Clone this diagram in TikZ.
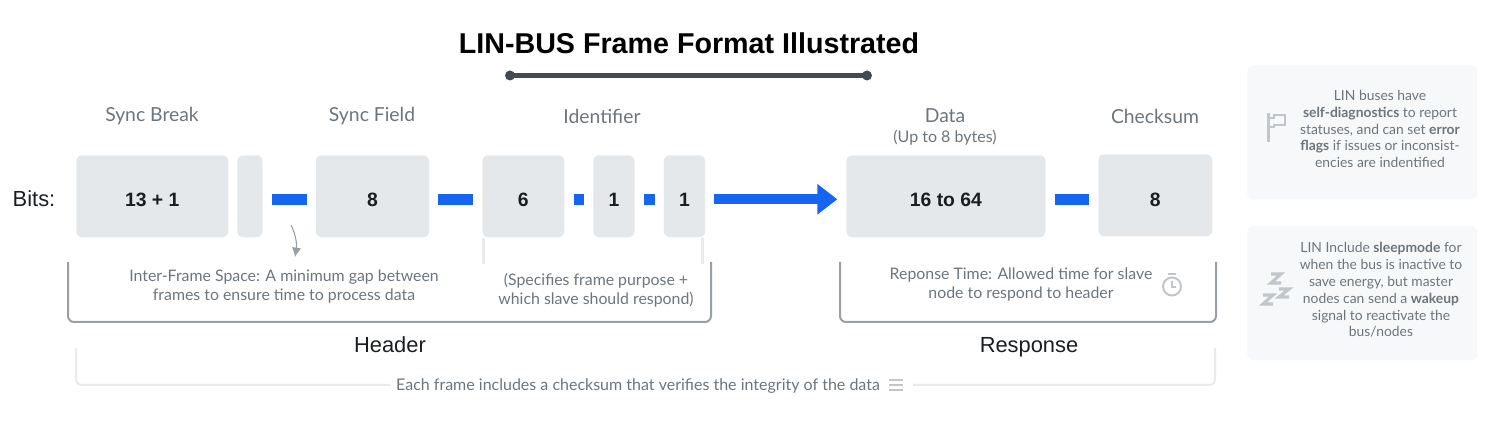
\documentclass[tikz,border=0pt]{standalone}
\usepackage{fontspec}
\usetikzlibrary{arrows.meta,positioning}
\setmainfont{Lato}
\newfontfamily\headfont{Liberation Sans}
\definecolor{boxgrey}{HTML}{E5E8EB}
\definecolor{sidegrey}{HTML}{F7F8FA}
\definecolor{textgrey}{HTML}{6C757D}
\definecolor{framegrey}{HTML}{9A9FA4}
\definecolor{lightline}{HTML}{E8EAED}
\definecolor{icongrey}{HTML}{C2C6CA}
\definecolor{barblue}{HTML}{1565F0}
\definecolor{inkdark}{HTML}{1B1E21}
\definecolor{titlebar}{HTML}{434A54}
\tikzset{
	bitbox/.style={fill=boxgrey,rounded corners=4.5pt,inner sep=0pt,font=\headfont\bfseries\fontsize{14.5}{17}\selectfont,text=inkdark,anchor=north west,text height=14.9pt,text depth=0pt},
	fieldname/.style={inner sep=0pt,text=textgrey,font=\fontsize{14.5}{17}\selectfont},
	notetext/.style={inner sep=0pt,text=textgrey,align=center,font=\fontsize{11.9}{14.4}\selectfont},
	sidetext/.style={inner sep=0pt,text=textgrey,align=center,font=\fontsize{10.4}{12.6}\selectfont},
	sidebox/.style={fill=sidegrey,rounded corners=4.5pt,inner sep=0pt,anchor=north west},
	grouplabel/.style={inner sep=0pt,text=inkdark,anchor=base,font=\headfont\fontsize{16.4}{18}\selectfont},
	bitbar/.style={draw=barblue,line width=8.6pt,shorten >=6.75pt,shorten <=6.75pt,transform canvas={yshift=-2.25pt}},
	groupframe/.style={draw=framegrey,line width=1.5pt,rounded corners=4.5pt},
	lightframe/.style={draw=lightline,line width=1.5pt,rounded corners=4.5pt},
	iconline/.style={draw=icongrey,line width=1.5pt},
	zzzline/.style={draw=icongrey,line width=2.3pt},
}
\begin{document}
\begin{tikzpicture}[x=0.75pt,y=0.75pt,yscale=-1,xscale=1]
	\useasboundingbox (0,0) rectangle (1500,441);

	% title
	\node [inner sep=0pt,text=black,font=\headfont\bfseries\fontsize{21.5}{26}\selectfont] (title) at (689,43) {LIN-BUS Frame Format Illustrated};
	\coordinate (barleft) at (510,75.5);
	\coordinate (barright) at (867,75.5);
	\draw [titlebar,line width=3.4pt] (barleft) -- (barright);
	\fill [titlebar] (barleft) circle (5) (barright) circle (5);

	% bit boxes
	\node [bitbox,minimum width=114pt,minimum height=61.5pt] (syncbreak) at (76,155) {13 + 1};
	\node [bitbox,minimum width=19pt,minimum height=61.5pt] (breakgap) at (237,155) {};
	\node [bitbox,minimum width=85pt,minimum height=61.5pt] (syncfield) at (315.5,155) {8};
	\node [bitbox,minimum width=61.5pt,minimum height=61.5pt] (idsix) at (482,155) {6};
	\node [bitbox,minimum width=31pt,minimum height=61.5pt] (idone) at (593,155) {1};
	\node [bitbox,minimum width=31pt,minimum height=61.5pt] (idtwo) at (663.5,155) {1};
	\node [bitbox,minimum width=149.5pt,minimum height=61.5pt] (data) at (846,155) {16 to 64};
	\node [bitbox,text height=16.4pt,minimum width=85.5pt,minimum height=61.5pt] (checksum) at (1098,154) {8};

	% field names
	\node [inner sep=0pt,text=inkdark,font=\headfont\fontsize{16.4}{18}\selectfont] (bits) at (34,199) {Bits:};
	\node [fieldname] (namebreak) at (152,116) {Sync Break};
	\node [fieldname] (namefield) at (372,116) {Sync Field};
	\node [fieldname] (nameid) at (602,116) {Identifier};
	\node [fieldname] (namedata) at (945,116) {Data};
	\node [inner sep=0pt,text=textgrey,font=\fontsize{12}{14}\selectfont] (namebytes) at (945,137.5) {(Up to 8 bytes)};
	\node [fieldname] (namecheck) at (1155,116) {Checksum};

	% blue connectors
	\draw [bitbar] (breakgap.east) -- (syncfield.west);
	\draw [bitbar] (syncfield.east) -- (idsix.west);
	\draw [bitbar] (idsix.east) -- (idone.west);
	\draw [bitbar] (idone.east) -- (idtwo.west);
	\draw [bitbar,line width=7.8pt,-{Triangle[length=15pt,width=22pt]},shorten >=6.5pt] (idtwo.east) -- (data.west);
	\draw [bitbar] (data.east) -- (checksum.west |- data.east);

	% group frames
	\draw [groupframe] (68,262) -- (68,322) -- (711,322) -- (711,262);
	\draw [groupframe] (840,262) -- (840,322) -- (1216,322) -- (1216,262);
	\draw [lightline,line width=2.2pt] (idsix.south west) ++(1.5,0) -- ++(0,26);
	\draw [lightline,line width=2.2pt] (idtwo.south east) ++(-2.5,0) -- ++(0,26);
	\node [grouplabel] (header) at (390,353) {Header};
	\node [grouplabel] (response) at (1029,353) {Response};

	% notes
	\node [notetext] (gapnote) at (284,286.5) {Inter-Frame Space: A minimum gap between\\frames to ensure time to process data};
	\node [notetext] (idnote) at (596,290.5) {(Specifies frame purpose +\\which slave should respond)};
	\node [notetext] (timenote) at (1021,284.5) {Reponse Time: Allowed time for slave\\node to respond to header};
	\draw [-{Latex[length=7pt,width=7pt]},framegrey,line width=0.8pt] (291,225) .. controls (296,235) and (297,245) .. (295,257);

	% stopwatch icon
	\draw [iconline] (1172,286.5) circle (9);
	\draw [icongrey,line width=1.5pt] (1168,274.5) -- (1176,274.5);
	\draw [icongrey,line width=1pt] (1172,281) -- (1172,287) -- (1176,287);

	% checksum line
	\node [inner sep=0pt,text=textgrey,font=\fontsize{12}{14}\selectfont] (checknote) at (638,386) {Each frame includes a checksum that verifies the integrity of the data};
	\draw [lightframe] (76,348) -- (76,385) -- (390,385);
	\draw [lightframe] (913,385) -- (1215,385) -- (1215,348);
	\foreach \ly in {380,385,390} {
		\draw [icongrey,line width=1.7pt] (889,\ly) -- (903,\ly);
	}

	% side notes
	\node [sidebox,minimum width=172.5pt,minimum height=100.5pt] (sideone) at (1247,65) {};
	\node [sidebox,minimum width=172.5pt,minimum height=100.5pt] (sidetwo) at (1247,226) {};
	\node [sidetext] (sideonetext) at (1380,129) {LIN buses have\\\textbf{self-diagnostics} to report\\statuses, and can set \textbf{error}\\\textbf{flags} if issues or inconsist-\\encies are indentified};
	\node [sidetext] (sidetwotext) at (1381,290) {LIN Include \textbf{sleepmode} for\\when the bus is inactive to\\save energy, but master\\nodes can send a \textbf{wakeup}\\signal to reactivate the\\bus/nodes};

	% flag icon
	\draw [icongrey,line width=2.2pt] (1268.5,113) -- (1268.5,142);
	\draw [iconline] (1268.5,118) -- (1273.5,118) -- (1273.5,115) -- (1285,115) -- (1285,125) -- (1273.5,125) -- (1273.5,127.5) -- (1268.5,127.5);

	% sleep icon
	\draw [zzzline] (1271,274) -- (1281,274) -- (1271,283) -- (1281,283);
	\draw [zzzline] (1279,289) -- (1289,289) -- (1279,297) -- (1289,297);
	\draw [zzzline] (1263,295) -- (1273,295) -- (1263,304) -- (1273,304);
\end{tikzpicture}
\end{document}
